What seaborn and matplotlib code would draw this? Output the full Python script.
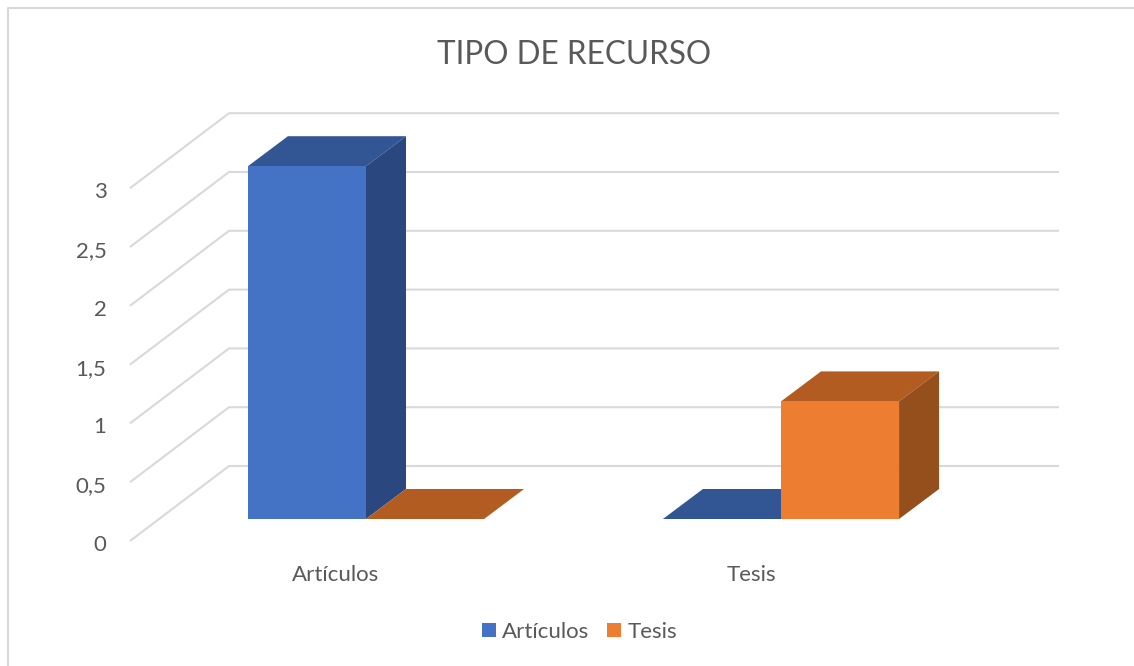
import pandas as pd
import seaborn as sns
import matplotlib
matplotlib.use('Agg')
import matplotlib.pyplot as plt
from matplotlib.lines import Line2D
from matplotlib.patches import Polygon
from matplotlib.transforms import ScaledTranslation

categorias = ["Artículos", "Tesis"]
series = ["Artículos", "Tesis"]
valores_articulos = [3, 0]
valores_tesis = [0, 1]
ticks_y = [0, 0.5, 1, 1.5, 2, 2.5, 3]
etiquetas_y = ["0", "0,5", "1", "1,5", "2", "2,5", "3"]

AZUL = "#4472C4"
NARANJA = "#ED7D31"
TECHO = {AZUL: "#325694", NARANJA: "#B35C21"}
LADO = {AZUL: "#2A487F", NARANJA: "#954F1C"}
GRIS = "#D9D9D9"
TEXTO = "#595959"

W, H = 1134, 666
PX_CAT = 415
PX_VAL = 117.6
X0, Y0 = 158.5, 519  # pixel del origen del plano de las barras

df = pd.DataFrame({
    "tipo": categorias * 2,
    "serie": [series[0]] * 2 + [series[1]] * 2,
    "valor": valores_articulos + valores_tesis,
})

sns.set_theme(style="white")
plt.rcParams['font.family'] = ['Lato', 'DejaVu Sans']

fig = plt.figure(figsize=(W / 100, H / 100), dpi=100)
ax = fig.add_axes([X0 / W, (H - Y0) / H, 2 * PX_CAT / W, 3.5 * PX_VAL / H])
sns.barplot(data=df, x="tipo", y="valor", hue="serie", palette=[AZUL, NARANJA],
            width=0.569, saturation=1, linewidth=0, zorder=3, ax=ax)
ax.set_xlim(-0.5, 1.5)
ax.set_ylim(0, 3.5)
ax.set_xlabel("")
ax.set_ylabel("")
sns.despine(ax=ax, left=True, bottom=True)
ax.patch.set_alpha(0)

# rejilla: pared del fondo + diagonal hacia el plano frontal
fondo_x, fondo_y = 70.5 / PX_CAT, 53 / PX_VAL
frente_x, frente_y = -28.5 / PX_CAT, -22 / PX_VAL
for v in ticks_y:
    ax.plot([-0.5 + frente_x, -0.5 + fondo_x, 1.5 + fondo_x],
            [v + frente_y, v + fondo_y, v + fondo_y],
            color=GRIS, lw=1.5, clip_on=False, zorder=0, solid_capstyle="butt")

# caras de profundidad de cada barra
dx, dy = 40 / PX_CAT, 30 / PX_VAL
for barra, color in zip(ax.patches, [AZUL, AZUL, NARANJA, NARANJA]):
    x, w, h = barra.get_x(), barra.get_width(), barra.get_height()
    ax.add_patch(Polygon([(x, h), (x + dx, h + dy), (x + w + dx, h + dy), (x + w, h)],
                         facecolor=TECHO[color], edgecolor="none", clip_on=False, zorder=2))
    if h > 0:
        ax.add_patch(Polygon([(x + w, 0), (x + w + dx, dy), (x + w + dx, h + dy), (x + w, h)],
                             facecolor=LADO[color], edgecolor="none", clip_on=False, zorder=2))

ax.set_yticks(ticks_y, etiquetas_y)
ax.tick_params(axis='y', length=0, pad=37.5, labelsize=16, labelcolor=TEXTO)
ax.tick_params(axis='x', length=0, pad=0, labelsize=16, labelcolor=TEXTO)
for lab in ax.get_yticklabels():
    lab.set_transform(lab.get_transform() + ScaledTranslation(0, -24 / 100, fig.dpi_scale_trans))
for lab in ax.get_xticklabels():
    lab.set_transform(lab.get_transform() + ScaledTranslation(-30 / 100, -46 / 100, fig.dpi_scale_trans))

fig.text(574.5 / W, 1 - 55 / H, "TIPO DE RECURSO", ha="center", va="center",
         fontsize=22.7, color=TEXTO)

handles, labels = ax.get_legend_handles_labels()
ax.get_legend().remove()
fig.legend(handles, labels, loc="center", bbox_to_anchor=(579.5 / W, 1 - 632 / H), ncol=2,
           frameon=False, fontsize=16, labelcolor=TEXTO, handlelength=0.63, handleheight=0.63,
           handletextpad=0.27, columnspacing=0.8, borderpad=0)

# borde del gráfico, solo arriba y a la izquierda
fig.add_artist(Line2D([8 / W, 8 / W, 1], [0, 1 - 8 / H, 1 - 8 / H], color=GRIS, lw=1.5))

fig.savefig("out.png", dpi=100)
